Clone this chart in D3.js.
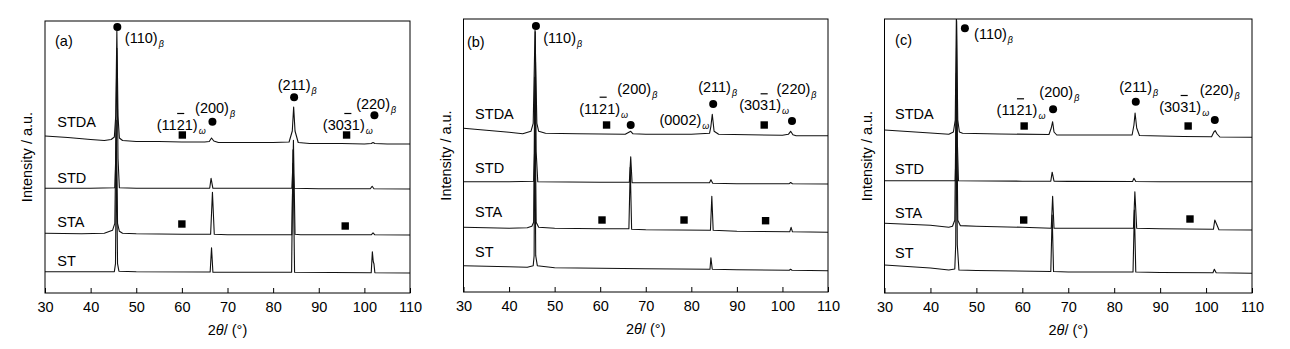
<!DOCTYPE html>
<html><head><meta charset="utf-8">
<script src="https://cdn.jsdelivr.net/npm/d3@7"></script>
<style>
html,body{margin:0;padding:0;background:#fff;}
svg text{font-family:"Liberation Sans",Arial,Helvetica,sans-serif;fill:#000;}
</style></head>
<body>
<svg id="chart" width="1290" height="349"></svg>
<script>
// ---------- data ----------
const xTicks = [30, 40, 50, 60, 70, 80, 90, 100, 110];
const sampleNames = ["STDA", "STD", "STA", "ST"];
const panelTags = ["(a)", "(b)", "(c)"];

// vertical offsets (a.u.) of each pattern: STDA, STD, STA, ST
const offsetsA = [157, 104.7, 59.7, 21.3];
const offsetsB = [163.7, 110.3, 64.7, 26.3];
const offsetsC = [163, 112.3, 69.7, 28];

// patterns [2theta, relative intensity]
const stdaA = [[30,0],[35,-1.5],[40,-3.5],[43,-4.5],[44.5,-3.5],[45.2,-1],[45.5,20],[45.75,105],[46.0,20],[46.3,-2],[47,-4.5],[50,-5.5],[55,-5.5],[60,-6],[65,-6],[66.0,-5.5],[66.5,-2],[67.0,-5],[68,-6.5],[75,-6.5],[80,-6.5],[83.5,-6],[84.2,5],[84.5,29],[84.8,5],[85.5,-6.5],[88,-7.5],[95,-7.5],[100,-8],[101.5,-7.5],[101.9,-6.5],[102.3,-7.5],[105,-8],[110,-8]];
const stdA = [[30,0],[40,0],[45.3,0.5],[45.5,30],[45.75,140],[46.0,30],[46.3,0.5],[50,0],[60,0],[66.1,0],[66.4,10],[66.8,0],[70,0],[84.1,0],[84.35,25],[84.6,0],[90,-0.5],[101.3,-0.5],[101.7,2],[102.1,-0.5],[110,-0.7]];
const staA = [[30,0],[38,-0.5],[43,0],[44.8,3],[45.3,10],[45.6,113],[45.9,10],[46.3,2],[47,0],[50,-0.5],[60,-1],[66.3,-1],[66.7,41],[67.1,-1],[70,-1.5],[84.1,-1.5],[84.45,93],[84.8,-1],[86,-1.5],[101.5,-1.5],[101.9,0.5],[102.3,-1.5],[110,-1.7]];
const stA = [[30,0],[45.2,0],[45.45,8],[45.65,120],[45.9,8],[46.2,0.5],[50,0],[66.2,-0.3],[66.5,24],[66.8,-0.5],[84.05,-0.5],[84.35,122],[84.7,-0.5],[101.5,-1],[101.75,20],[101.95,10],[102.1,8],[102.3,-1],[110,-1.3]];

const stdaB = [[30,0],[35,-2],[40,-4],[43,-5.5],[44.8,-3],[45.3,5],[45.7,98],[46.1,5],[46.5,-3],[48,-5],[55,-5.5],[65.5,-6],[66.3,-4],[66.7,-3],[67.2,-5.5],[70,-6],[80,-6],[84.0,-5],[84.3,2],[84.6,14],[85.0,-3],[86,-6],[100,-7],[101.3,-6],[101.8,-3],[102.3,-6.5],[103,-7.5],[110,-7.5]];
const stdB = [[30,0],[40,0],[45.4,0.5],[45.6,30],[45.75,150],[45.95,30],[46.3,0],[60,-0.5],[66.4,-0.5],[66.7,25],[67.0,-1],[70,-1],[84.0,-1],[84.3,2],[84.7,-1.5],[90,-2],[101.5,-2],[101.8,-0.8],[102.2,-2],[110,-2.3]];
const staB = [[30,0],[40,-1],[44,-0.5],[45.0,1],[45.4,5],[45.65,150],[45.95,5],[46.5,0],[50,-1],[60,-1.5],[66.3,-1.5],[66.6,60],[66.9,-2],[70,-2.5],[84.2,-3],[84.5,31],[84.8,-3],[90,-4],[101.6,-4.5],[101.9,0],[102.2,-4.5],[110,-5]];
const stB = [[30,0],[40,-1],[44,-1.5],[45.3,0],[45.5,10],[45.65,160],[45.85,10],[46.2,0],[50,-2],[60,-2.5],[70,-3],[84.1,-3.5],[84.3,8],[84.6,-3.5],[90,-4],[101.5,-4.5],[101.8,-3.5],[102.1,-4.5],[110,-5]];

const stdaC = [[30,0],[35,-1.5],[40,-3],[44,-4.3],[45.0,-2],[45.4,10],[45.65,115],[45.95,10],[46.3,-2],[47,-3.3],[55,-4],[65.8,-4.5],[66.3,2],[66.6,8.3],[66.9,-2],[67.5,-5],[75,-5],[83.9,-5],[84.3,5],[84.55,17],[84.9,2],[85.5,-5.5],[95,-6.5],[101.2,-6.7],[101.7,-2],[102.0,-0.7],[102.4,-4],[103,-7],[110,-7.3]];
const stdC = [[30,0],[45.4,0],[45.6,40],[45.7,160],[45.85,40],[46.1,0],[60,-0.5],[66.2,-0.5],[66.5,8.5],[66.9,-0.5],[70,-0.7],[84.0,-0.8],[84.3,2.5],[84.7,-0.8],[90,-1],[110,-1]];
const staC = [[30,0],[40,-2],[44,-4],[44.8,-3],[45.3,3],[45.65,150],[45.95,3],[46.5,-2.3],[50,-3],[60,-4],[66.3,-5],[66.6,27],[66.9,-5],[70,-5],[84.2,-5],[84.5,31.6],[84.9,-5],[90,-5.5],[101.6,-6],[101.9,3.3],[102.3,-1],[102.8,-6.5],[110,-6.7]];
const stC = [[30,0],[40,-3],[44,-5],[45.3,-4],[45.5,20],[45.65,170],[45.85,20],[46.2,-5],[50,-5.5],[66.2,-6.5],[66.5,50],[66.8,-6.5],[70,-7],[84.1,-7],[84.4,55],[84.7,-7],[90,-7.5],[101.5,-7.7],[101.8,-4.3],[102.2,-7.7],[110,-8.3]];

// phase markers [2theta, intensity]
const circlesA = [[45.85,266],[66.7,171.3],[84.6,195.7],[102.2,177.7]];
const squaresA = [[60.1,158],[96.1,158],[60.0,69],[95.8,67]];
const circlesB = [[45.9,266],[66.7,167],[84.8,188],[102.1,171]];
const squaresB = [[61.4,167],[96.0,167],[60.4,72],[78.4,72],[96.3,71.3]];
const circlesC = [[47.5,264.7],[66.7,183.7],[84.7,191.3],[101.9,173]];
const squaresC = [[60.4,167],[96.1,167],[60.3,73],[96.5,74]];

// peak labels [text, subscript, 2theta, intensity, overlined char index]
const peakLabelsA = [["(110)","β",47.5,250.3,-1],["(200)","β",62.9,180.3,-1],["(211)","β",81.0,203,-1],["(220)","β",98.2,184,-1],["(1121)","ω",54.5,163,3],["(3031)","ω",90.9,163,3]];
const peakLabelsB = [["(110)","β",47.5,249,-1],["(200)","β",63.75,198.3,-1],["(1121)","ω",55.4,178.3,3],["(211)","β",81.5,200,-1],["(0002)","ω",73.0,166.7,-1],["(3031)","ω",90.5,181.7,3],["(220)","β",98.7,198.3,-1]];
const peakLabelsC = [["(110)","β",49.5,254.3,-1],["(200)","β",63.7,196,-1],["(1121)","ω",54.4,177.7,3],["(211)","β",81.1,201,-1],["(3031)","ω",89.8,181,3],["(220)","β",98.6,197.7,-1]];

// sample label positions [2theta, intensity] for STDA, STD, STA, ST
const sampleLabelPosA = [[32.7,165.7],[32.7,109.7],[32.7,65.7],[32.7,27]];
const sampleLabelPosB = [[32.55,173],[32.55,118.7],[32.55,75.3],[32.55,35.3]];
const sampleLabelPosC = [[32.3,174],[32.3,119],[32.3,74.7],[32.3,35.3]];
const tagPos = [[32.2,247],[30.75,245],[32.3,247.7]];

// ---------- drawing ----------
const frames = [
  {x0:45, x1:410, y0:21, y1:293},
  {x0:463.5, x1:828, y0:19, y1:292},
  {x0:884.5, x1:1252, y0:19, y1:293}
];
const panels = [
  {offsets:offsetsA, traces:[stdaA,stdA,staA,stA], circles:circlesA, squares:squaresA, labels:peakLabelsA, samplePos:sampleLabelPosA},
  {offsets:offsetsB, traces:[stdaB,stdB,staB,stB], circles:circlesB, squares:squaresB, labels:peakLabelsB, samplePos:sampleLabelPosB},
  {offsets:offsetsC, traces:[stdaC,stdC,staC,stC], circles:circlesC, squares:squaresC, labels:peakLabelsC, samplePos:sampleLabelPosC}
];

const svg = d3.select("#chart");
const FS = 14.5;

panels.forEach((p, i) => {
  const f = frames[i];
  const x = d3.scaleLinear().domain([30, 110]).range([f.x0, f.x1]);
  const y = d3.scaleLinear().domain([0, f.y1 - f.y0]).range([f.y1, f.y0]);
  const g = svg.append("g");

  const clipId = "clip" + i;
  svg.append("clipPath").attr("id", clipId).append("rect")
    .attr("x", f.x0).attr("y", f.y0).attr("width", f.x1 - f.x0).attr("height", f.y1 - f.y0);

  // traces
  const line = d3.line().x(d => x(d[0])).y(d => y(d[1]));
  const tg = g.append("g").attr("clip-path", `url(#${clipId})`);
  p.traces.forEach((tr, k) => {
    const off = p.offsets[k];
    tg.append("path")
      .datum(tr.map(d => [d[0], d[1] + off]))
      .attr("d", line)
      .attr("fill", "none")
      .attr("stroke", "#111")
      .attr("stroke-width", 1.1)
      .attr("stroke-linejoin", "round");
  });

  // bottom axis with inward ticks
  const ax = d3.axisBottom(x).tickValues(xTicks).tickSize(-5).tickPadding(9).tickFormat(d3.format("d"));
  const axg = g.append("g").attr("transform", `translate(0,${f.y1})`).call(ax);
  axg.select(".domain").remove();
  axg.selectAll("line").attr("stroke", "#000");
  axg.selectAll("text").attr("font-size", FS).attr("font-family", '"Liberation Sans",Arial,sans-serif').attr("fill", "#000");

  // frame
  g.append("rect").attr("x", f.x0).attr("y", f.y0).attr("width", f.x1 - f.x0).attr("height", f.y1 - f.y0)
    .attr("fill", "none").attr("stroke", "#000").attr("stroke-width", 1);

  // axis titles
  const xt = g.append("text").attr("x", (f.x0 + f.x1) / 2).attr("y", f.y1 + 42)
    .attr("text-anchor", "middle").attr("font-size", FS);
  xt.append("tspan").text("2");
  xt.append("tspan").attr("font-style", "italic").text("θ");
  xt.append("tspan").text("/ (°)");

  g.append("text")
    .attr("transform", `translate(${f.x0 - 13},${(f.y0 + f.y1) / 2}) rotate(-90)`)
    .attr("text-anchor", "middle").attr("font-size", FS)
    .text("Intensity / a.u.");

  // panel tag
  g.append("text").attr("x", x(tagPos[i][0])).attr("y", y(tagPos[i][1])).attr("font-size", FS).text(panelTags[i]);

  // sample labels
  sampleNames.forEach((n, k) => {
    g.append("text").attr("x", x(p.samplePos[k][0])).attr("y", y(p.samplePos[k][1]))
      .attr("font-size", FS).text(n);
  });

  // markers
  g.selectAll(null).data(p.circles).enter().append("circle")
    .attr("cx", d => x(d[0])).attr("cy", d => y(d[1])).attr("r", 4).attr("fill", "#000");
  g.selectAll(null).data(p.squares).enter().append("rect")
    .attr("x", d => x(d[0]) - 3.7).attr("y", d => y(d[1]) - 3.7)
    .attr("width", 7.4).attr("height", 7.4).attr("fill", "#000");

  // peak labels
  p.labels.forEach(l => {
    const t = g.append("text").attr("x", x(l[2])).attr("y", y(l[3])).attr("font-size", FS);
    t.append("tspan").text(l[0]);
    t.append("tspan").attr("font-size", 9).attr("font-style", "italic").attr("dy", 4).attr("dx", 1).text(l[1]);
    if (l[4] >= 0) {
      const ext = t.node().getExtentOfChar(l[4]);
      g.append("line")
        .attr("x1", ext.x + 0.5).attr("x2", ext.x + ext.width - 0.5)
        .attr("y1", y(l[3]) - 16.5).attr("y2", y(l[3]) - 16.5)
        .attr("stroke", "#000").attr("stroke-width", 1.2);
    }
  });
});
</script>
</body></html>
